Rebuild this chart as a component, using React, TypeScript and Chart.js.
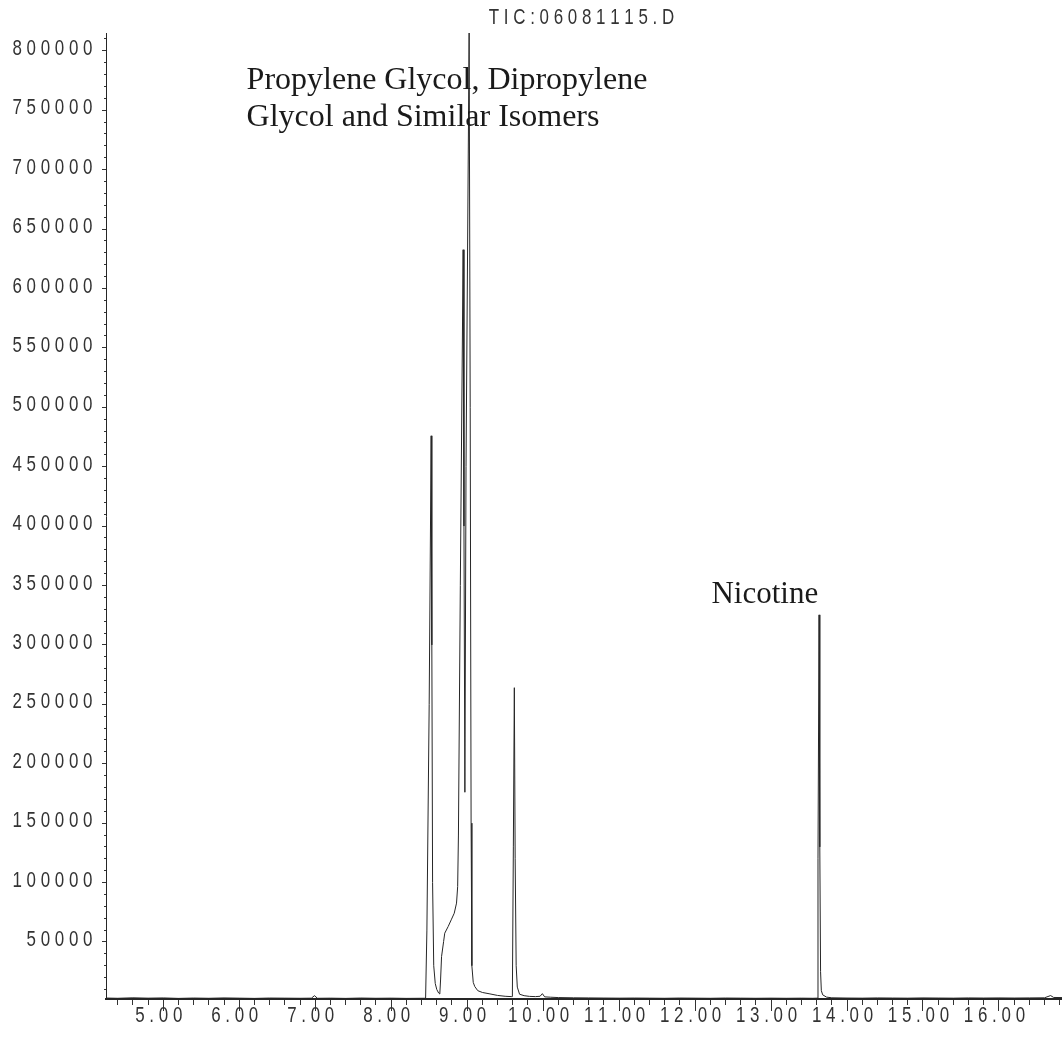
import React, { useEffect, useRef } from "react";
import { Chart, registerables } from "chart.js";

Chart.register(...registerables);

// Retention time (min)
const times: number[] = [
  4.25, 4.4, 4.6, 4.8, 5.0, 5.2, 5.4, 5.6, 5.8, 6.0, 6.2, 6.4, 6.6, 6.8, 6.95, 6.99, 7.03,
  7.2, 7.4, 7.6, 7.8, 8.0, 8.2, 8.4, 8.453,
  8.47, 8.5, 8.526, 8.535, 8.545, 8.56, 8.58, 8.6, 8.625, 8.64,
  8.65, 8.663, 8.69, 8.705, 8.75, 8.79, 8.83, 8.86, 8.875, 8.885, 8.91, 8.947, 8.958, 8.97,
  8.985, 9.026, 9.04, 9.052, 9.062, 9.08, 9.1, 9.14, 9.2, 9.3, 9.4, 9.5, 9.58, 9.595,
  9.608, 9.621, 9.632, 9.645, 9.66, 9.69, 9.75, 9.82, 9.9, 9.96, 9.99, 10.02,
  10.1, 10.2, 10.4, 10.6, 10.8, 11.0, 11.2, 11.4, 11.6, 11.8, 12.0, 12.2, 12.4, 12.6, 12.8,
  13.0, 13.2, 13.4, 13.55, 13.606,
  13.618, 13.632, 13.642, 13.652, 13.662, 13.68, 13.73, 13.8,
  14.0, 14.2, 14.4, 14.6, 14.8, 15.0, 15.2, 15.4, 15.6, 15.8, 16.0, 16.2, 16.4, 16.6, 16.68, 16.72, 16.83,
];

// Total ion current abundance
const abundance: number[] = [
  2800, 2600, 3000, 2700, 2900, 2500, 2800, 2600, 2900, 2700, 2500, 2800, 2700, 2600, 2700, 4800, 2600,
  2700, 2500, 2800, 2600, 2700, 2500, 2600, 2600,
  60000, 250000, 476000, 300000, 100000, 30000, 15000, 10000, 7000, 6200,
  18000, 37700, 50300, 57400, 63000, 68600, 74200, 82700, 96600, 140000, 350000, 632600, 400000, 176000,
  450000, 815000, 500000, 150000, 30000, 16000, 12500, 9000, 7500, 6300, 5000, 4300, 4000, 4000,
  130000, 264000, 120000, 30000, 12000, 6000, 4800, 4200, 4000, 4300, 6500, 3800,
  3500, 3200, 3000, 2900, 2800, 2700, 2800, 2700, 2600, 2800, 2700, 2600, 2800, 2700, 2600,
  2700, 2600, 2700, 2600, 2700,
  120000, 325300, 130000, 25000, 9000, 5500, 3600, 3000,
  2800, 2700, 2900, 2800, 2700, 2900, 2800, 2700, 2900, 2800, 2900, 2800, 2900, 3000, 4900, 3300, 3200,
];

const titleText = "TIC: 06081115.D";
const annotationLines: string[] = ["Propylene Glycol, Dipropylene", "Glycol and Similar Isomers", "Nicotine"];
const annotationTimes: number[] = [6.097, 6.097, 12.216];
const annotationLevels: number[] = [767700, 736500, 335200];

const X_MIN = 4.246;
const X_MAX = 16.83;
const X_MAJOR = 1;
const X_MINOR = 0.2;
const Y_MIN = 2000;
const Y_MAX = 815000;
const Y_MAJOR = 50000;
const Y_MINOR = 10000;

const SANS = "'Liberation Sans', Arial, sans-serif";
const SERIF = "'Liberation Serif', 'Times New Roman', serif";
const INK = "#333333";
const LABEL_SIZE = 22;
const SQUEEZE = 0.77;

const spaced = (s: string) => s.split("").join(" ");

const stepTicks = (step: number, decimals: number) => (scale: any) => {
  const out: { value: number }[] = [];
  const f = Math.pow(10, decimals);
  for (let k = Math.ceil(scale.min / step - 1e-9); k * step <= scale.max + 1e-9; k++) {
    out.push({ value: Math.round(k * step * f) / f });
  }
  scale.ticks = out;
};

const drawSqueezed = (ctx: any, text: string, x: number, y: number, align: string) => {
  ctx.save();
  ctx.translate(x, y);
  ctx.scale(SQUEEZE, 1);
  ctx.textAlign = align;
  ctx.fillText(text, 0, 0);
  ctx.restore();
};

const textPlugin = {
  id: "chromText",
  afterDatasetsDraw(chart: any) {
    const { ctx, scales } = chart;
    ctx.save();
    ctx.fillStyle = "#1a1a1a";
    ctx.textAlign = "left";
    ctx.textBaseline = "alphabetic";
    annotationLines.forEach((txt, i) => {
      ctx.font = `${i === 2 ? 31 : 32}px ${SERIF}`;
      const px = scales.x.getPixelForValue(annotationTimes[i]);
      const py = scales.y.getPixelForValue(annotationLevels[i]);
      ctx.fillText(txt, px, py);
    });
    ctx.restore();
  },
  afterDraw(chart: any) {
    const { ctx, scales, chartArea } = chart;
    ctx.save();
    ctx.fillStyle = INK;
    ctx.font = `${LABEL_SIZE}px ${SANS}`;
    ctx.textBaseline = "middle";
    // x labels
    scales.x.ticks.forEach((t: any) => {
      const px = scales.x.getPixelForValue(t.value);
      drawSqueezed(ctx, spaced(Number(t.value).toFixed(2)), px - 4.5, chartArea.bottom + 16.5, "center");
    });
    // y labels
    scales.y.ticks.forEach((t: any) => {
      const py = scales.y.getPixelForValue(t.value);
      drawSqueezed(ctx, spaced(String(t.value)), chartArea.left - 13.5, py - 2, "right");
    });
    // title
    drawSqueezed(ctx, spaced(titleText.replace(/ /g, "")), (chartArea.left + chartArea.right) / 2 - 2.5, 17.5, "center");
    ctx.restore();
  },
};

export default function App() {
  const ref = useRef<HTMLCanvasElement | null>(null);

  useEffect(() => {
    if (!ref.current) return;
    const points = times.map((t, i) => ({ x: t, y: abundance[i] }));
    const chart = new Chart(ref.current, {
      type: "line",
      data: {
        datasets: [
          {
            data: points,
            borderColor: "#262626",
            borderWidth: 1,
            pointRadius: 0,
            tension: 0,
            fill: false,
          },
        ],
      },
      options: {
        animation: false,
        responsive: false,
        devicePixelRatio: 1,
        layout: { padding: { top: 33, left: 0, right: 0, bottom: 0 } },
        plugins: {
          legend: { display: false },
          tooltip: { enabled: false },
          title: { display: false },
        },
        scales: {
          xMinor: {
            type: "linear",
            position: "bottom",
            weight: 0,
            min: X_MIN,
            max: X_MAX,
            border: { display: false },
            grid: { drawOnChartArea: false, drawTicks: true, tickLength: 6, tickColor: INK },
            ticks: { display: false },
            afterBuildTicks: stepTicks(X_MINOR, 2),
            afterFit: (s: any) => {
              s.height = 0;
            },
          },
          x: {
            type: "linear",
            position: "bottom",
            weight: 1,
            min: X_MIN,
            max: X_MAX,
            border: { display: true, color: "#262626", width: 2 },
            grid: { drawOnChartArea: false, drawTicks: true, tickLength: 12, tickColor: INK },
            ticks: { display: false },
            afterBuildTicks: stepTicks(X_MAJOR, 2),
            afterFit: (s: any) => {
              s.height = 41;
            },
          },
          yMinor: {
            type: "linear",
            position: "left",
            weight: 0,
            min: Y_MIN,
            max: Y_MAX,
            border: { display: false },
            grid: { drawOnChartArea: false, drawTicks: true, tickLength: 2, tickColor: INK },
            ticks: { display: false },
            afterBuildTicks: stepTicks(Y_MINOR, 0),
            afterFit: (s: any) => {
              s.width = 0;
            },
          },
          y: {
            type: "linear",
            position: "left",
            weight: 1,
            min: Y_MIN,
            max: Y_MAX,
            border: { display: true, color: "#262626", width: 1 },
            grid: { drawOnChartArea: false, drawTicks: true, tickLength: 4, tickColor: INK },
            ticks: { display: false },
            afterBuildTicks: stepTicks(Y_MAJOR, 0),
            afterFit: (s: any) => {
              s.width = 106;
            },
          },
        },
      } as any,
      plugins: [textPlugin],
    });
    return () => chart.destroy();
  }, []);

  return (
    <div style={{ position: "fixed", left: 0, top: 0, width: 1062, height: 1040, background: "#fff" }}>
      <canvas ref={ref} width={1062} height={1040} style={{ display: "block" }} />
    </div>
  );
}
